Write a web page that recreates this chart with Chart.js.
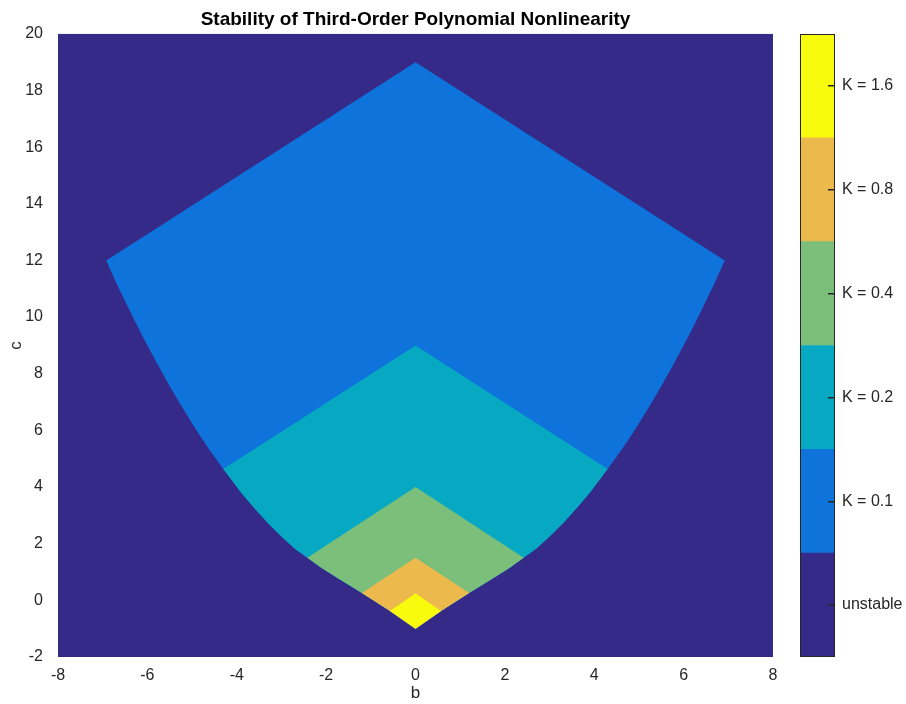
<!DOCTYPE html>
<html>
<head>
<meta charset="utf-8">
<script src="https://cdn.jsdelivr.net/npm/chart.js@4/dist/chart.umd.min.js"></script>
<style>
  body { margin: 0; background: #fff; }
  #wrap { position: relative; width: 906px; height: 704px; }
  #wrap canvas { position: absolute; top: 0; }
</style>
</head>
<body>
<div id="wrap">
  <canvas id="mainChart" width="790" height="704" style="left:0"></canvas>
  <canvas id="barChart" width="116" height="704" style="left:790px"></canvas>
</div>
<script>
// colour bar levels, from bottom to top
const levelLabels = ['unstable', 'K = 0.1', 'K = 0.2', 'K = 0.4', 'K = 0.8', 'K = 1.6'];
const levelColors = ['#352a87', '#0e74dc', '#06a9c1', '#7cbf7b', '#ecb94c', '#f9fb0e'];

// stable regions (K = 0.1 ... 1.6): apex at b = 0 and the corner where the roof meets the lower edge
const regionTopC = [19, 9, 4, 1.5, 0.25];
const regionCornerB = [6.92, 4.3, 2.42, 1.2, 0.57];
const regionCornerC = [12.0, 4.64, 1.5, 0.26, -0.38];

// lower edge of the stable area, right half (b >= 0)
const lowerB = [0, 0.57, 1.2, 1.5, 1.8, 2.1, 2.42, 2.7, 3.0, 3.3, 3.6, 3.9, 4.3,
                4.6, 4.9, 5.2, 5.5, 5.8, 6.1, 6.4, 6.7, 6.92];
const lowerC = [-1, -0.38, 0.26, 0.55, 0.84, 1.14, 1.5, 1.82, 2.25, 2.72, 3.24, 3.8, 4.64,
                5.29, 6.0, 6.76, 7.56, 8.41, 9.3, 10.24, 11.22, 12.0];

const bRange = [-8, 8];
const cRange = [-2, 20];

const textColor = '#262626';
const fontFamily = '"Liberation Sans", Arial, Helvetica, sans-serif';

function regionPoints(i) {
  const cb = regionCornerB[i], cc = regionCornerC[i];
  const pts = [{x: -cb, y: cc}, {x: 0, y: regionTopC[i]}, {x: cb, y: cc}];
  for (let j = lowerB.length - 1; j >= 0; j--) {
    if (lowerB[j] < cb) pts.push({x: lowerB[j], y: lowerC[j]});
  }
  for (let j = 1; j < lowerB.length; j++) {
    if (lowerB[j] < cb) pts.push({x: -lowerB[j], y: lowerC[j]});
  }
  return pts;
}

// first dataset is drawn on top, so go from the innermost region outwards
const datasets = [];
for (let i = regionTopC.length - 1; i >= 0; i--) {
  datasets.push({
    label: levelLabels[i + 1],
    data: regionPoints(i),
    backgroundColor: levelColors[i + 1]
  });
}
// unstable background over the whole plot
datasets.push({
  label: levelLabels[0],
  data: [
    {x: bRange[0], y: cRange[0]}, {x: bRange[1], y: cRange[0]},
    {x: bRange[1], y: cRange[1]}, {x: bRange[0], y: cRange[1]}
  ],
  backgroundColor: levelColors[0]
});
datasets.forEach(d => {
  d.showLine = true;
  d.fill = 'shape';
  d.borderWidth = 0;
  d.pointRadius = 0;
  d.tension = 0;
});

Chart.defaults.font.family = fontFamily;
Chart.defaults.color = textColor;

new Chart(document.getElementById('mainChart'), {
  type: 'scatter',
  data: { datasets: datasets },
  options: {
    responsive: false,
    animation: false,
    layout: { padding: { left: 0, right: 17, top: 0, bottom: 0 } },
    plugins: {
      legend: { display: false },
      tooltip: { enabled: false },
      title: {
        display: true,
        fullSize: false,
        text: 'Stability of Third-Order Polynomial Nonlinearity',
        color: '#000',
        font: { size: 19, weight: 'bold' },
        padding: { top: 8, bottom: 3 }
      }
    },
    scales: {
      x: {
        type: 'linear',
        min: bRange[0],
        max: bRange[1],
        grid: { display: false },
        border: { display: false },
        ticks: { stepSize: 2, font: { size: 16 }, padding: 1, maxRotation: 0 },
        title: { display: true, text: 'b', font: { size: 17 }, padding: { top: 1, bottom: 0 } },
        afterFit: s => { s.height = 47; }
      },
      y: {
        min: cRange[0],
        max: cRange[1],
        grid: { display: false },
        border: { display: false },
        ticks: { stepSize: 2, font: { size: 16 }, padding: 7 },
        title: { display: true, text: 'c', font: { size: 17 }, padding: { top: 6, bottom: 0 } },
        afterFit: s => { s.width = 58; }
      }
    }
  }
});

// colour bar
const frame = {
  id: 'frame',
  afterDraw(chart) {
    const a = chart.chartArea, ctx = chart.ctx;
    ctx.save();
    ctx.strokeStyle = textColor;
    ctx.lineWidth = 1;
    ctx.strokeRect(a.left + 0.5, a.top + 0.5, a.right - a.left - 1, a.bottom - a.top - 1);
    ctx.restore();
  }
};

new Chart(document.getElementById('barChart'), {
  type: 'bar',
  data: {
    labels: [''],
    datasets: levelLabels.map((l, i) => ({
      label: l,
      data: [1],
      backgroundColor: levelColors[i],
      borderWidth: 0,
      barPercentage: 1,
      categoryPercentage: 1
    }))
  },
  options: {
    responsive: false,
    animation: false,
    layout: { padding: { left: 10, right: 0, top: 34, bottom: 47 } },
    plugins: { legend: { display: false }, tooltip: { enabled: false } },
    scales: {
      x: { stacked: true, display: false },
      y: {
        stacked: true,
        position: 'right',
        min: 0,
        max: levelLabels.length,
        // ticks point into the bar, drawn over it
        grid: { z: 1, drawOnChartArea: false, drawTicks: true, tickLength: -7, color: textColor, lineWidth: 1.5 },
        border: { display: false },
        ticks: {
          font: { size: 16 },
          padding: 14,
          callback: (v, i) => levelLabels[i]
        },
        afterBuildTicks: s => { s.ticks = levelLabels.map((l, i) => ({ value: i + 0.5 })); },
        afterFit: s => { s.width = 71; }
      }
    }
  },
  plugins: [frame]
});
</script>
</body>
</html>
